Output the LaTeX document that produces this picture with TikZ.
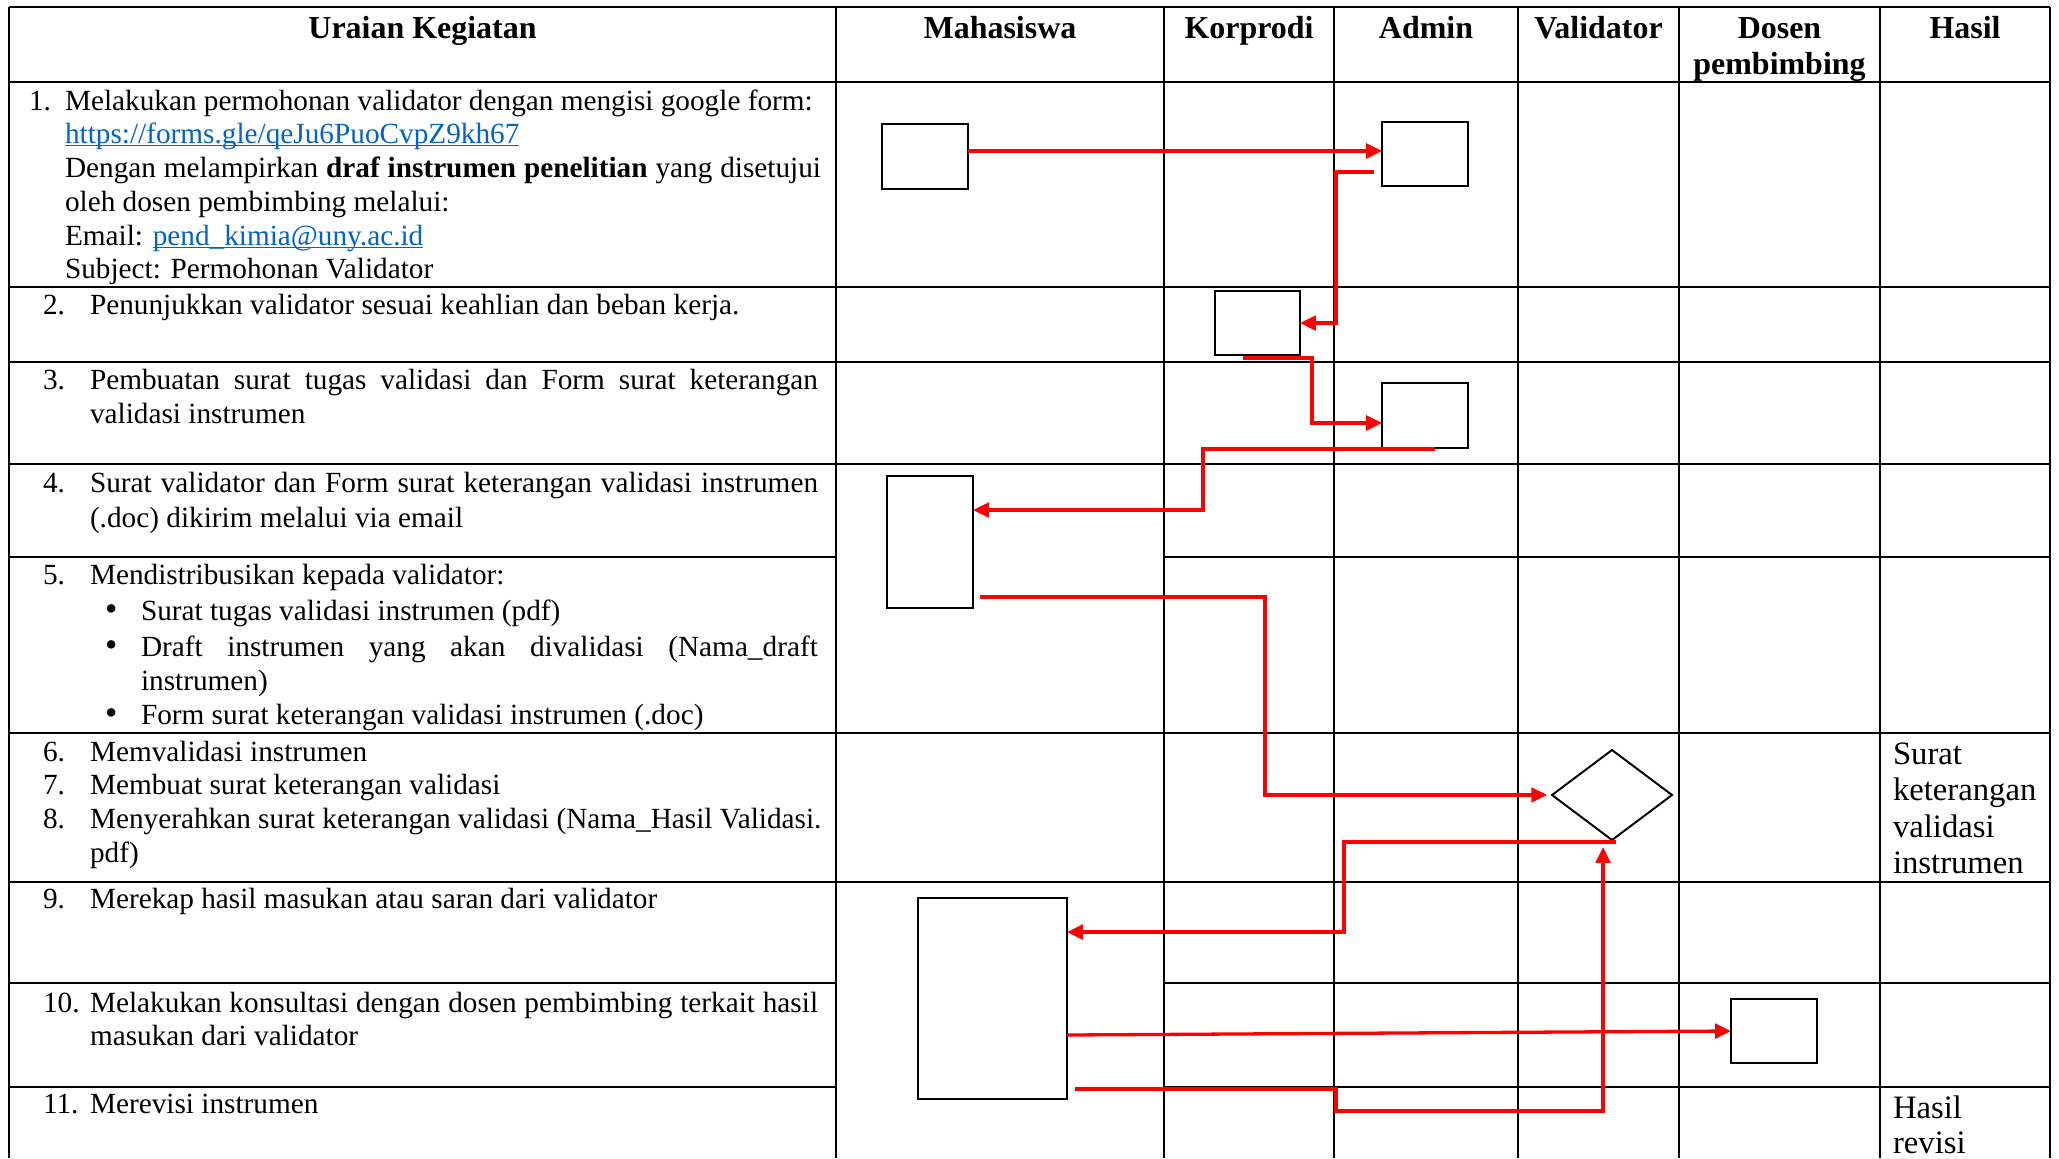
\documentclass[tikz,border=0pt]{standalone}
\usepackage{fontspec}
\usepackage{graphicx}
\setmainfont{Liberation Serif}
\usetikzlibrary{arrows.meta,shapes.geometric}
\definecolor{linkblue}{HTML}{0563C1}
% hyperlink look: blue text with a thin underline close to the baseline
\newcommand\weblink[1]{{\color{linkblue}\setbox0=\hbox{#1}\rlap{\rule[-1.3pt]{\wd0}{0.55pt}}\box0}}
% a line set to a fixed width with stretched word spaces
\newcommand\jline[2]{\makebox[#1][s]{#2}}
\newcommand\blt{\scalebox{1.2}{\textbullet}}
\newcommand\pxu{0.41pt}

\begin{document}
\begin{tikzpicture}[x=0.41pt,y=-0.41pt,
  rule/.style={line width=0.7pt},
  stepbox/.style={draw,line width=0.8pt,fill=white,inner sep=0pt,outer sep=0pt},
  flow/.style={draw=red,line width=1.35pt,-{Triangle[length=6.5pt,width=6pt]}},
  txt/.style={anchor=base west,inner sep=0pt,outer sep=0pt,font=\fontsize{12}{14}\selectfont},
  hdr/.style={anchor=base,inner sep=0pt,outer sep=0pt,font=\fontsize{13.1}{15}\selectfont\bfseries},
  res/.style={anchor=base west,inner sep=0pt,outer sep=0pt,font=\fontsize{13.4}{16}\selectfont}]

\fill[white] (0,0) rectangle (2059,1158);
\useasboundingbox (0,0) rectangle (2059,1158);

% ---------- table grid ----------
\foreach \x in {9,836,1164,1334,1518,1679,1880,2050}
  \draw[rule] (\x,7) -- (\x,1158);
\foreach \y in {7,82,287,362,464,733,882}
  \draw[rule] (9,\y) -- (2050,\y);
\foreach \y in {557,983,1087}{
  \draw[rule] (9,\y) -- (836,\y);
  \draw[rule] (1164,\y) -- (2050,\y);
}

% ---------- column headers ----------
\node[hdr] (h0) at (422.5,38) {Uraian Kegiatan};
\node[hdr] (h1) at (1000,38) {Mahasiswa};
\node[hdr] (h2) at (1249,38) {Korprodi};
\node[hdr] (h3) at (1426,38) {Admin};
\node[hdr] (h4) at (1598.5,38) {Validator};
\node[hdr] (h5) at (1779.5,38) {Dosen};
\node[hdr] (h5b) at (1779.5,74) {pembimbing};
\node[hdr] (h6) at (1965,38) {Hasil};

% ---------- activity descriptions ----------
\node[txt] (n1) at (29,110) {1.};
\node[txt] (t1a) at (65,110) {Melakukan permohonan validator dengan mengisi google form:};
\node[txt] (t1b) at (65,143) {\weblink{https://forms.gle/qeJu6PuoCvpZ9kh67}};
\node[txt] (t1c) at (65,177) {\jline{310pt}{Dengan melampirkan \textbf{draf instrumen penelitian} yang disetujui}};
\node[txt] (t1d) at (65,211) {oleh dosen pembimbing melalui:};
\node[txt] (t1e) at (65,245) {Email: \weblink{pend\_kimia@uny.ac.id}};
\node[txt] (t1f) at (65,278) {Subject: Permohonan Validator};

\node[txt] (n2) at (43,314) {2.};
\node[txt] (t2a) at (90,314) {Penunjukkan validator sesuai keahlian dan beban kerja.};

\node[txt] (n3) at (43,389) {3.};
\node[txt] (t3a) at (90,389) {\jline{298.5pt}{Pembuatan surat tugas validasi dan Form surat keterangan}};
\node[txt] (t3b) at (90,423) {validasi instrumen};

\node[txt] (n4) at (43,492) {4.};
\node[txt] (t4a) at (90,492) {\jline{298.5pt}{Surat validator dan Form surat keterangan validasi instrumen}};
\node[txt] (t4b) at (90,527) {(.doc) dikirim melalui via email};

\node[txt] (n5) at (43,584) {5.};
\node[txt] (t5a) at (90,584) {Mendistribusikan kepada validator:};
\node[txt] (b5a) at (105,620) {\blt};
\node[txt] (t5b) at (141,620) {Surat tugas validasi instrumen (pdf)};
\node[txt] (b5b) at (105,656) {\blt};
\node[txt] (t5c) at (141,656) {\jline{277.5pt}{Draft instrumen yang akan divalidasi (Nama\_draft}};
\node[txt] (t5d) at (141,690) {instrumen)};
\node[txt] (b5c) at (105,724) {\blt};
\node[txt] (t5e) at (141,724) {Form surat keterangan validasi instrumen (.doc)};

\node[txt] (n6) at (43,761) {6.};
\node[txt] (t6) at (90,761) {Memvalidasi instrumen};
\node[txt] (n7) at (43,794) {7.};
\node[txt] (t7) at (90,794) {Membuat surat keterangan validasi};
\node[txt] (n8) at (43,828) {8.};
\node[txt] (t8a) at (90,828) {Menyerahkan surat keterangan validasi (Nama\_Hasil Validasi.};
\node[txt] (t8b) at (90,862) {pdf)};

\node[txt] (n9) at (43,908) {9.};
\node[txt] (t9) at (90,908) {Merekap hasil masukan atau saran dari validator};

\node[txt] (n10) at (43,1012) {10.};
\node[txt] (t10a) at (90,1012) {\jline{298.5pt}{Melakukan konsultasi dengan dosen pembimbing terkait hasil}};
\node[txt] (t10b) at (90,1045) {masukan dari validator};

\node[txt] (n11) at (43,1113) {11.};
\node[txt] (t11) at (90,1113) {Merevisi instrumen};

% ---------- results column ----------
\node[res] (r6a) at (1893,764) {Surat};
\node[res] (r6b) at (1893,800) {keterangan};
\node[res] (r6c) at (1893,837) {validasi};
\node[res] (r6d) at (1893,873) {instrumen};
\node[res] (r11a) at (1893,1118) {Hasil};
\node[res] (r11b) at (1893,1153) {revisi};

% ---------- flow symbols ----------
\node[stepbox,minimum width=86*\pxu,minimum height=65*\pxu] (m1) at (925,156.5) {};
\node[stepbox,minimum width=86*\pxu,minimum height=64*\pxu] (a1) at (1425,154) {};
\node[stepbox,minimum width=85*\pxu,minimum height=64*\pxu] (k2) at (1257.5,323) {};
\node[stepbox,minimum width=86*\pxu,minimum height=65*\pxu] (a3) at (1425,415.5) {};
\node[stepbox,minimum width=86*\pxu,minimum height=132*\pxu] (m4) at (930,542) {};
\node[stepbox,diamond,minimum width=120*\pxu,minimum height=90*\pxu] (v6) at (1612,795) {};
\node[stepbox,minimum width=149*\pxu,minimum height=201*\pxu] (m9) at (992.5,998.5) {};
\node[stepbox,minimum width=86*\pxu,minimum height=64*\pxu] (d10) at (1774,1031) {};

% free ends of the connectors
\coordinate (s2) at (1374,172);
\coordinate (s3) at (1243,358);
\coordinate (s4) at (1435,449);
\coordinate (s5) at (980,597);
\coordinate (s6) at (1616,842);
\coordinate (s8) at (1075,1089);

% ---------- connectors ----------
\draw[flow] (m1.east |- 0,151) -- (a1.west |- 0,151);
\draw[flow] (s2) -- (1336,172) |- (k2.east);
\draw[flow] (s3) -- (1312,358) |- (a3.west |- 0,423);
\draw[flow] (s4) -- (1203,449) |- (m4.east |- 0,510);
\draw[flow,shorten >=2pt] (s5) -- (1265,597) |- (v6.west);
\draw[flow] (s6) -- (1344,842) |- (m9.east |- 0,932);
\draw[flow] (m9.east |- 0,1035) -- (d10.west);
\draw[flow] (s8) -- (1336,1089) -- (1336,1111) -- (1603,1111) -- (1603,847);

\end{tikzpicture}
\end{document}
